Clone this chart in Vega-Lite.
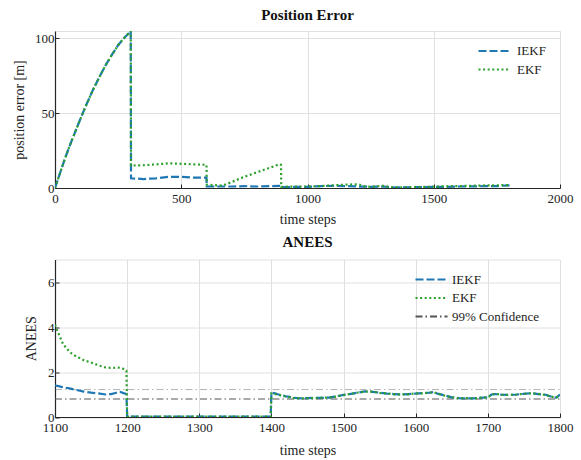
{
  "$schema": "https://vega.github.io/schema/vega-lite/v6.json",
  "padding": {"left": 11, "top": 7, "right": 0, "bottom": 0},
  "background": "white",
  "spacing": 71.5,
  "bounds": "flush",
  "resolve": {
    "scale": {"color": "independent", "strokeDash": "independent", "x": "independent", "y": "independent"},
    "legend": {"color": "independent", "strokeDash": "independent"}
  },
  "config": {
    "font": "Liberation Serif",
    "view": {"stroke": "#e0e0e0", "strokeWidth": 1},
    "axis": {
      "labelFont": "Liberation Serif",
      "labelFontSize": 13,
      "labelColor": "#222222",
      "labelFlush": false,
      "titleFont": "Liberation Serif",
      "titleFontSize": 14,
      "titleFontWeight": "normal",
      "titleColor": "#222222",
      "domainColor": "#262626",
      "domainWidth": 1.2,
      "tickColor": "#262626",
      "tickSize": -4,
      "tickWidth": 1,
      "labelPadding": 8,
      "gridColor": "#e0e0e0",
      "gridWidth": 1,
      "format": "d"
    },
    "axisY": {"labelPadding": 5},
    "title": {"font": "Liberation Serif", "fontSize": 15, "fontWeight": "bold", "color": "#111111"},
    "legend": {
      "orient": "none",
      "labelFont": "Liberation Serif",
      "labelFontSize": 13,
      "labelColor": "#222222",
      "symbolType": "M-2,0H2",
      "symbolSize": 256,
      "symbolStrokeWidth": 2.2,
      "rowPadding": 1.5,
      "title": null
    }
  },
  "datasets": {
    "posErr": [
      {"t": 0, "v": 0, "s": "IEKF"}, {"t": 20, "v": 10, "s": "IEKF"}, {"t": 40, "v": 20, "s": "IEKF"}, {"t": 60, "v": 29, "s": "IEKF"},
      {"t": 80, "v": 37.5, "s": "IEKF"}, {"t": 100, "v": 46, "s": "IEKF"}, {"t": 125, "v": 56, "s": "IEKF"}, {"t": 150, "v": 65.5, "s": "IEKF"},
      {"t": 175, "v": 74, "s": "IEKF"}, {"t": 200, "v": 82, "s": "IEKF"}, {"t": 225, "v": 89, "s": "IEKF"}, {"t": 250, "v": 95.5, "s": "IEKF"},
      {"t": 275, "v": 100.5, "s": "IEKF"}, {"t": 300, "v": 105, "s": "IEKF"}, {"t": 301, "v": 6.5, "s": "IEKF"}, {"t": 350, "v": 6, "s": "IEKF"},
      {"t": 400, "v": 6.5, "s": "IEKF"}, {"t": 450, "v": 7.5, "s": "IEKF"}, {"t": 500, "v": 7.5, "s": "IEKF"}, {"t": 550, "v": 7, "s": "IEKF"},
      {"t": 600, "v": 7, "s": "IEKF"}, {"t": 601, "v": 1, "s": "IEKF"}, {"t": 650, "v": 1, "s": "IEKF"}, {"t": 700, "v": 1, "s": "IEKF"},
      {"t": 750, "v": 1.2, "s": "IEKF"}, {"t": 800, "v": 1, "s": "IEKF"}, {"t": 850, "v": 1.2, "s": "IEKF"}, {"t": 895, "v": 1.5, "s": "IEKF"},
      {"t": 896, "v": 0.6, "s": "IEKF"}, {"t": 950, "v": 0.7, "s": "IEKF"}, {"t": 1000, "v": 0.8, "s": "IEKF"}, {"t": 1050, "v": 1.2, "s": "IEKF"},
      {"t": 1100, "v": 1.5, "s": "IEKF"}, {"t": 1150, "v": 1.3, "s": "IEKF"}, {"t": 1200, "v": 1, "s": "IEKF"}, {"t": 1250, "v": 0.8, "s": "IEKF"},
      {"t": 1300, "v": 1, "s": "IEKF"}, {"t": 1350, "v": 0.3, "s": "IEKF"}, {"t": 1400, "v": 0.5, "s": "IEKF"}, {"t": 1450, "v": 0.6, "s": "IEKF"},
      {"t": 1500, "v": 0.7, "s": "IEKF"}, {"t": 1550, "v": 0.8, "s": "IEKF"}, {"t": 1600, "v": 1, "s": "IEKF"}, {"t": 1650, "v": 1.1, "s": "IEKF"},
      {"t": 1700, "v": 1.2, "s": "IEKF"}, {"t": 1750, "v": 1.3, "s": "IEKF"}, {"t": 1800, "v": 1.8, "s": "IEKF"},

      {"t": 0, "v": 0, "s": "EKF"}, {"t": 20, "v": 10, "s": "EKF"}, {"t": 40, "v": 20, "s": "EKF"}, {"t": 60, "v": 29, "s": "EKF"},
      {"t": 80, "v": 37.5, "s": "EKF"}, {"t": 100, "v": 46, "s": "EKF"}, {"t": 125, "v": 56, "s": "EKF"}, {"t": 150, "v": 65.5, "s": "EKF"},
      {"t": 175, "v": 74, "s": "EKF"}, {"t": 200, "v": 82, "s": "EKF"}, {"t": 225, "v": 89, "s": "EKF"}, {"t": 250, "v": 95.5, "s": "EKF"},
      {"t": 275, "v": 100.5, "s": "EKF"}, {"t": 300, "v": 105, "s": "EKF"}, {"t": 301, "v": 15, "s": "EKF"}, {"t": 350, "v": 15.2, "s": "EKF"},
      {"t": 400, "v": 15.8, "s": "EKF"}, {"t": 450, "v": 16.5, "s": "EKF"}, {"t": 500, "v": 16.2, "s": "EKF"}, {"t": 550, "v": 15.8, "s": "EKF"},
      {"t": 600, "v": 15.5, "s": "EKF"}, {"t": 601, "v": 2.2, "s": "EKF"}, {"t": 665, "v": 1.6, "s": "EKF"}, {"t": 700, "v": 4, "s": "EKF"},
      {"t": 750, "v": 7.5, "s": "EKF"}, {"t": 800, "v": 10.5, "s": "EKF"}, {"t": 850, "v": 13.5, "s": "EKF"}, {"t": 890, "v": 16, "s": "EKF"},
      {"t": 895, "v": 15.5, "s": "EKF"}, {"t": 896, "v": 0.8, "s": "EKF"}, {"t": 950, "v": 1, "s": "EKF"}, {"t": 1000, "v": 1, "s": "EKF"},
      {"t": 1050, "v": 1.3, "s": "EKF"}, {"t": 1100, "v": 1.8, "s": "EKF"}, {"t": 1150, "v": 2.2, "s": "EKF"}, {"t": 1200, "v": 2.5, "s": "EKF"},
      {"t": 1225, "v": 1.2, "s": "EKF"}, {"t": 1250, "v": 0.8, "s": "EKF"}, {"t": 1300, "v": 1.5, "s": "EKF"}, {"t": 1325, "v": 0.6, "s": "EKF"},
      {"t": 1350, "v": 0.4, "s": "EKF"}, {"t": 1400, "v": 0.5, "s": "EKF"}, {"t": 1450, "v": 0.7, "s": "EKF"}, {"t": 1500, "v": 0.9, "s": "EKF"},
      {"t": 1550, "v": 1.1, "s": "EKF"}, {"t": 1600, "v": 1.3, "s": "EKF"}, {"t": 1650, "v": 1.5, "s": "EKF"}, {"t": 1700, "v": 1.7, "s": "EKF"},
      {"t": 1750, "v": 1.8, "s": "EKF"}, {"t": 1800, "v": 2, "s": "EKF"}
    ],
    "anees": [
      {"t": 1100, "v": 1.40, "s": "IEKF"}, {"t": 1105, "v": 1.37, "s": "IEKF"}, {"t": 1110, "v": 1.33, "s": "IEKF"}, {"t": 1120, "v": 1.27, "s": "IEKF"},
      {"t": 1130, "v": 1.20, "s": "IEKF"}, {"t": 1140, "v": 1.13, "s": "IEKF"}, {"t": 1150, "v": 1.08, "s": "IEKF"}, {"t": 1160, "v": 1.05, "s": "IEKF"},
      {"t": 1170, "v": 1.00, "s": "IEKF"}, {"t": 1178, "v": 1.02, "s": "IEKF"}, {"t": 1185, "v": 1.08, "s": "IEKF"}, {"t": 1190, "v": 1.12, "s": "IEKF"},
      {"t": 1195, "v": 1.06, "s": "IEKF"}, {"t": 1199, "v": 1.02, "s": "IEKF"}, {"t": 1200, "v": 0.02, "s": "IEKF"}, {"t": 1300, "v": 0.02, "s": "IEKF"},
      {"t": 1399, "v": 0.02, "s": "IEKF"}, {"t": 1400, "v": 1.08, "s": "IEKF"}, {"t": 1405, "v": 1.05, "s": "IEKF"}, {"t": 1410, "v": 1.00, "s": "IEKF"},
      {"t": 1415, "v": 0.97, "s": "IEKF"}, {"t": 1420, "v": 0.92, "s": "IEKF"}, {"t": 1425, "v": 0.90, "s": "IEKF"}, {"t": 1430, "v": 0.86, "s": "IEKF"},
      {"t": 1440, "v": 0.83, "s": "IEKF"}, {"t": 1450, "v": 0.84, "s": "IEKF"}, {"t": 1460, "v": 0.85, "s": "IEKF"}, {"t": 1470, "v": 0.85, "s": "IEKF"},
      {"t": 1480, "v": 0.86, "s": "IEKF"}, {"t": 1490, "v": 0.92, "s": "IEKF"}, {"t": 1500, "v": 0.98, "s": "IEKF"}, {"t": 1505, "v": 1.00, "s": "IEKF"},
      {"t": 1510, "v": 1.03, "s": "IEKF"}, {"t": 1520, "v": 1.08, "s": "IEKF"}, {"t": 1530, "v": 1.14, "s": "IEKF"}, {"t": 1540, "v": 1.12, "s": "IEKF"},
      {"t": 1550, "v": 1.08, "s": "IEKF"}, {"t": 1560, "v": 1.04, "s": "IEKF"}, {"t": 1570, "v": 1.02, "s": "IEKF"}, {"t": 1580, "v": 1.00, "s": "IEKF"},
      {"t": 1590, "v": 1.02, "s": "IEKF"}, {"t": 1600, "v": 1.04, "s": "IEKF"}, {"t": 1610, "v": 1.06, "s": "IEKF"}, {"t": 1620, "v": 1.08, "s": "IEKF"},
      {"t": 1625, "v": 1.11, "s": "IEKF"}, {"t": 1630, "v": 1.04, "s": "IEKF"}, {"t": 1640, "v": 0.96, "s": "IEKF"}, {"t": 1650, "v": 0.87, "s": "IEKF"},
      {"t": 1660, "v": 0.84, "s": "IEKF"}, {"t": 1670, "v": 0.83, "s": "IEKF"}, {"t": 1680, "v": 0.83, "s": "IEKF"}, {"t": 1690, "v": 0.85, "s": "IEKF"},
      {"t": 1700, "v": 0.88, "s": "IEKF"}, {"t": 1705, "v": 1.00, "s": "IEKF"}, {"t": 1710, "v": 1.02, "s": "IEKF"}, {"t": 1720, "v": 0.99, "s": "IEKF"},
      {"t": 1730, "v": 0.98, "s": "IEKF"}, {"t": 1740, "v": 1.00, "s": "IEKF"}, {"t": 1750, "v": 1.03, "s": "IEKF"}, {"t": 1760, "v": 1.06, "s": "IEKF"},
      {"t": 1770, "v": 1.02, "s": "IEKF"}, {"t": 1780, "v": 0.99, "s": "IEKF"}, {"t": 1790, "v": 0.88, "s": "IEKF"}, {"t": 1795, "v": 0.86, "s": "IEKF"},
      {"t": 1800, "v": 1.00, "s": "IEKF"},

      {"t": 1100, "v": 4.10, "s": "EKF"}, {"t": 1103, "v": 3.85, "s": "EKF"}, {"t": 1107, "v": 3.55, "s": "EKF"}, {"t": 1111, "v": 3.25, "s": "EKF"},
      {"t": 1116, "v": 3.05, "s": "EKF"}, {"t": 1122, "v": 2.85, "s": "EKF"}, {"t": 1128, "v": 2.72, "s": "EKF"}, {"t": 1134, "v": 2.62, "s": "EKF"},
      {"t": 1140, "v": 2.52, "s": "EKF"}, {"t": 1150, "v": 2.42, "s": "EKF"}, {"t": 1160, "v": 2.30, "s": "EKF"}, {"t": 1170, "v": 2.20, "s": "EKF"},
      {"t": 1180, "v": 2.18, "s": "EKF"}, {"t": 1188, "v": 2.20, "s": "EKF"}, {"t": 1194, "v": 2.15, "s": "EKF"}, {"t": 1199, "v": 2.06, "s": "EKF"},
      {"t": 1200, "v": 0.02, "s": "EKF"}, {"t": 1300, "v": 0.02, "s": "EKF"}, {"t": 1399, "v": 0.02, "s": "EKF"}, {"t": 1400, "v": 1.05, "s": "EKF"},
      {"t": 1405, "v": 1.02, "s": "EKF"}, {"t": 1410, "v": 0.98, "s": "EKF"}, {"t": 1415, "v": 0.95, "s": "EKF"}, {"t": 1420, "v": 0.91, "s": "EKF"},
      {"t": 1425, "v": 0.88, "s": "EKF"}, {"t": 1430, "v": 0.85, "s": "EKF"}, {"t": 1440, "v": 0.82, "s": "EKF"}, {"t": 1450, "v": 0.84, "s": "EKF"},
      {"t": 1460, "v": 0.84, "s": "EKF"}, {"t": 1470, "v": 0.86, "s": "EKF"}, {"t": 1480, "v": 0.87, "s": "EKF"}, {"t": 1490, "v": 0.91, "s": "EKF"},
      {"t": 1500, "v": 0.97, "s": "EKF"}, {"t": 1505, "v": 1.01, "s": "EKF"}, {"t": 1510, "v": 1.02, "s": "EKF"}, {"t": 1520, "v": 1.09, "s": "EKF"},
      {"t": 1530, "v": 1.13, "s": "EKF"}, {"t": 1540, "v": 1.13, "s": "EKF"}, {"t": 1550, "v": 1.07, "s": "EKF"}, {"t": 1560, "v": 1.05, "s": "EKF"},
      {"t": 1570, "v": 1.01, "s": "EKF"}, {"t": 1580, "v": 1.01, "s": "EKF"}, {"t": 1590, "v": 1.01, "s": "EKF"}, {"t": 1600, "v": 1.05, "s": "EKF"},
      {"t": 1610, "v": 1.05, "s": "EKF"}, {"t": 1620, "v": 1.09, "s": "EKF"}, {"t": 1625, "v": 1.10, "s": "EKF"}, {"t": 1630, "v": 1.05, "s": "EKF"},
      {"t": 1640, "v": 0.95, "s": "EKF"}, {"t": 1650, "v": 0.88, "s": "EKF"}, {"t": 1660, "v": 0.83, "s": "EKF"}, {"t": 1670, "v": 0.84, "s": "EKF"},
      {"t": 1680, "v": 0.82, "s": "EKF"}, {"t": 1690, "v": 0.86, "s": "EKF"}, {"t": 1700, "v": 0.87, "s": "EKF"}, {"t": 1705, "v": 0.99, "s": "EKF"},
      {"t": 1710, "v": 1.03, "s": "EKF"}, {"t": 1720, "v": 0.98, "s": "EKF"}, {"t": 1730, "v": 0.99, "s": "EKF"}, {"t": 1740, "v": 0.99, "s": "EKF"},
      {"t": 1750, "v": 1.04, "s": "EKF"}, {"t": 1760, "v": 1.05, "s": "EKF"}, {"t": 1770, "v": 1.03, "s": "EKF"}, {"t": 1780, "v": 0.98, "s": "EKF"},
      {"t": 1790, "v": 0.89, "s": "EKF"}, {"t": 1795, "v": 0.87, "s": "EKF"}, {"t": 1800, "v": 0.99, "s": "EKF"}
    ],
    "confidence": [
      {"t": 1100, "v": 1.22, "s": "99% Confidence", "bound": "upper"},
      {"t": 1800, "v": 1.22, "s": "99% Confidence", "bound": "upper"},
      {"t": 1100, "v": 0.80, "s": "99% Confidence", "bound": "lower"},
      {"t": 1800, "v": 0.80, "s": "99% Confidence", "bound": "lower"}
    ]
  },
  "vconcat": [
    {
      "title": {"text": "Position Error", "offset": 8},
      "width": 505,
      "height": 157,
      "data": {"name": "posErr"},
      "mark": {"type": "line", "strokeWidth": 2.2, "strokeCap": "butt", "clip": true},
      "encoding": {
        "x": {"field": "t", "type": "quantitative", "title": "time steps",
              "scale": {"domain": [0, 2000], "nice": false},
              "axis": {"values": [0, 500, 1000, 1500, 2000], "titlePadding": 7}},
        "y": {"field": "v", "type": "quantitative", "title": "position error [m]",
              "scale": {"domain": [0, 105], "nice": false},
              "axis": {"values": [0, 50, 100], "titlePadding": 8.5}},
        "color": {"field": "s", "type": "nominal",
                  "scale": {"domain": ["IEKF", "EKF"], "range": ["#1f77b4", "#2ca02c"]},
                  "legend": {"legendX": 430, "legendY": 10.5, "labelOffset": 13}},
        "strokeDash": {"field": "s", "type": "nominal",
                       "scale": {"domain": ["IEKF", "EKF"], "range": [[8, 3], [2, 2.6]]},
                       "legend": {"legendX": 430, "legendY": 10.5, "labelOffset": 13}}
      }
    },
    {
      "title": {"text": "ANEES", "offset": 10},
      "width": 505,
      "height": 157.5,
      "layer": [
        {
          "data": {"name": "confidence"},
          "mark": {"type": "line", "strokeWidth": 1, "strokeCap": "butt"},
          "encoding": {
            "x": {"field": "t", "type": "quantitative"},
            "y": {"field": "v", "type": "quantitative"},
            "detail": {"field": "bound", "type": "nominal"},
            "color": {"field": "s", "type": "nominal"},
            "strokeDash": {"field": "s", "type": "nominal"},
            "opacity": {"field": "bound", "type": "nominal",
                        "scale": {"domain": ["upper", "lower"], "range": [0.45, 1]},
                        "legend": null}
          }
        },
        {
          "data": {"name": "anees"},
          "mark": {"type": "line", "strokeWidth": 2.2, "strokeCap": "butt", "clip": true},
          "encoding": {
            "x": {"field": "t", "type": "quantitative", "title": "time steps",
                  "scale": {"domain": [1100, 1800], "nice": false},
                  "axis": {"values": [1100, 1200, 1300, 1400, 1500, 1600, 1700, 1800], "titlePadding": 9}},
            "y": {"field": "v", "type": "quantitative", "title": "ANEES",
                  "scale": {"domain": [0, 7], "nice": false},
                  "axis": {"values": [0, 2, 4, 6], "titlePadding": 9.5}},
            "color": {"field": "s", "type": "nominal",
                      "scale": {"domain": ["IEKF", "EKF", "99% Confidence"], "range": ["#1f77b4", "#2ca02c", "#555555"]},
                      "legend": {"legendX": 367, "legendY": 10.5, "labelOffset": 11}},
            "strokeDash": {"field": "s", "type": "nominal",
                           "scale": {"domain": ["IEKF", "EKF", "99% Confidence"], "range": [[8, 3], [2, 2.6], [7, 3, 1.5, 3]]},
                           "legend": {"legendX": 367, "legendY": 10.5, "labelOffset": 11}}
          }
        }
      ]
    }
  ]
}
